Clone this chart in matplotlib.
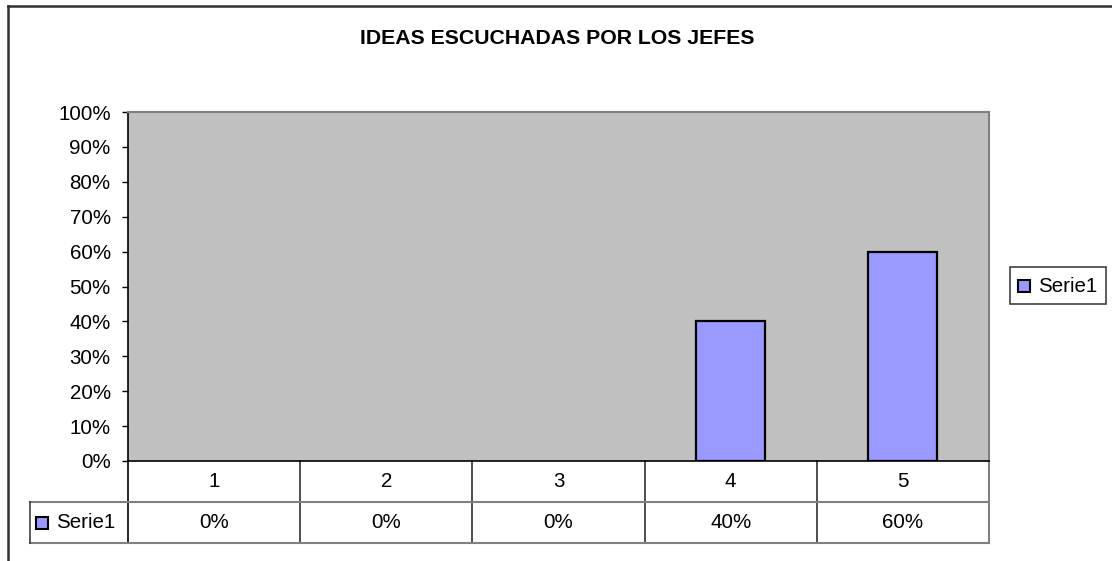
import numpy as np
import matplotlib
matplotlib.use("Agg")
import matplotlib.pyplot as plt
from matplotlib.lines import Line2D
from matplotlib.patches import Rectangle
from matplotlib.ticker import PercentFormatter

plt.rcParams['font.family'] = ['Liberation Sans', 'DejaVu Sans']

title = "IDEAS ESCUCHADAS POR LOS JEFES"
categories = ["1", "2", "3", "4", "5"]
serie1 = [0.0, 0.0, 0.0, 0.40, 0.60]
serie_name = "Serie1"
yticks = np.arange(0, 1.01, 0.1)

W, H = 1112, 561
fig = plt.figure(figsize=(W / 100, H / 100), dpi=100)
fs = 14.8


def fx(px):
    return px / W


def fy(py):
    return 1 - py / H


# plot area in pixels
left, right, top, bottom = 128, 989, 112, 461
ax = fig.add_axes([fx(left), fy(bottom), fx(right - left), (bottom - top) / H])
ax.set_facecolor("#C0C0C0")

bar_color = "#9999FF"
x = np.arange(len(categories))
bars = ax.bar(x, serie1, width=0.4, color=bar_color, edgecolor="black", lw=1.6, zorder=3)
for b, v in zip(bars, serie1):
    if v == 0:
        b.set_visible(False)

ax.set_xlim(-0.5, len(categories) - 0.5)
ax.set_ylim(0, 1)
ax.set_yticks(yticks)
ax.yaxis.set_major_formatter(PercentFormatter(1.0, decimals=0))
ax.set_xticks([])
ax.tick_params(axis="y", direction="out", length=4.5, width=1, labelsize=fs, pad=8, colors="black")
for s in ["top", "right"]:
    ax.spines[s].set_color("#808080")
    ax.spines[s].set_linewidth(1.5)
for s in ["left", "bottom"]:
    ax.spines[s].set_color("black")
    ax.spines[s].set_linewidth(1.2)

fig.text(fx(557), fy(39), title, ha="center", va="center", fontsize=15.3, fontweight="bold")

# data table under the plot
row_h = 41 / (bottom - top)
tr = ax.get_xaxis_transform()
grid_c = "#808080"
label_left = -0.5 - (left - 30) / ((right - left) / len(categories))
for i in range(1, len(categories)):
    ax.add_line(Line2D([i - 0.5, i - 0.5], [0, -2 * row_h], transform=tr,
                       color="#303030", lw=1.2, clip_on=False))
ax.add_line(Line2D([len(categories) - 0.5] * 2, [0, -2 * row_h], transform=tr,
                   color=grid_c, lw=1.5, clip_on=False))
ax.add_line(Line2D([-0.5, -0.5], [0, -2 * row_h], transform=tr,
                   color="black", lw=1.2, clip_on=False))
ax.add_line(Line2D([label_left, len(categories) - 0.5], [-row_h, -row_h], transform=tr,
                   color=grid_c, lw=1.5, clip_on=False))
ax.add_line(Line2D([label_left, len(categories) - 0.5], [-2 * row_h, -2 * row_h], transform=tr,
                   color=grid_c, lw=1.5, clip_on=False))
ax.add_line(Line2D([label_left, label_left], [-row_h, -2 * row_h], transform=tr,
                   color="#404040", lw=1.2, clip_on=False))

for i, (c, v) in enumerate(zip(categories, serie1)):
    ax.text(i, -0.5 * row_h, c, transform=tr, ha="center", va="center", fontsize=fs)
    ax.text(i, -1.5 * row_h, f"{v:.0%}", transform=tr, ha="center", va="center", fontsize=fs)

# series key in the table
fig.patches.append(Rectangle((fx(36), fy(529)), 12 / W, 12 / H, transform=fig.transFigure,
                             facecolor=bar_color, edgecolor="black", lw=1.5))
fig.text(fx(56), fy(523), serie_name, ha="left", va="center", fontsize=fs)

# legend
fig.patches.append(Rectangle((fx(1010), fy(304)), 96 / W, 37 / H, transform=fig.transFigure,
                             facecolor="white", edgecolor="#404040", lw=1.2))
fig.patches.append(Rectangle((fx(1018), fy(292)), 12 / W, 12 / H, transform=fig.transFigure,
                             facecolor=bar_color, edgecolor="black", lw=1.5))
fig.text(fx(1038), fy(286), serie_name, ha="left", va="center", fontsize=fs)

# chart area border
fig.add_artist(Line2D([fx(8), fx(8)], [fy(6), 0], transform=fig.transFigure, color="#303030", lw=1.8))
fig.add_artist(Line2D([fx(8), 1], [fy(6), fy(6)], transform=fig.transFigure, color="#303030", lw=1.8))

fig.savefig("out.png", dpi=100)
